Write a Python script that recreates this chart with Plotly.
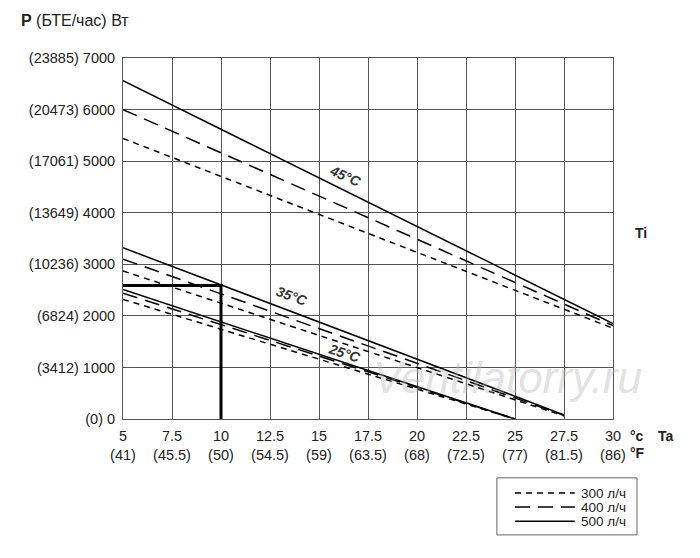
import plotly.graph_objects as go

# x axis: outdoor temperature Ta, °C and °F
ta_c = [5, 7.5, 10, 12.5, 15, 17.5, 20, 22.5, 25, 27.5, 30]
ta_f = ["41", "45.5", "50", "54.5", "59", "63.5", "68", "72.5", "77", "81.5", "86"]

# y axis: power, W and BTU/h
p_w = [0, 1000, 2000, 3000, 4000, 5000, 6000, 7000]
p_btu = ["0", "3412", "6824", "10236", "13649", "17061", "20473", "23885"]

# curves (start / end points), per Ti and flow rate
x_45 = [5, 30]
p45_300 = [5440, 1760]
p45_400 = [6000, 1810]
p45_500 = [6560, 1850]

x_35 = [5, 27.5]
p35_300 = [2870, 60]
p35_400 = [3100, 70]
p35_500 = [3320, 80]

x_25 = [5, 25]
p25_300 = [2320, 0]
p25_400 = [2440, 0]
p25_500 = [2510, 0]

# worked example: Ta = 10 °C on the 35 °C / 500 l/h line
ex_x = [5, 10, 10]
ex_y = [2590, 2590, 0]

flows = ["300 л/ч", "400 л/ч", "500 л/ч"]
dashes = ["6px,5px", "15px,8px", "solid"]

fig = go.Figure()

groups = [(x_45, [p45_300, p45_400, p45_500]),
          (x_35, [p35_300, p35_400, p35_500]),
          (x_25, [p25_300, p25_400, p25_500])]
for xs, ys in groups:
    for i in range(3):
        fig.add_trace(go.Scatter(x=xs, y=ys[i], mode="lines",
                                 line=dict(color="black", width=1.5, dash=dashes[i]),
                                 showlegend=False, hoverinfo="skip"))

fig.add_trace(go.Scatter(x=ex_x, y=ex_y, mode="lines",
                         line=dict(color="black", width=3),
                         showlegend=False, hoverinfo="skip"))

font = dict(family="Liberation Sans, Arial, sans-serif", size=14.5, color="#222")

# page body has an 8px margin, so the plot box is shifted back by that much
fig.update_layout(
    width=700, height=558,
    margin=dict(l=115, r=95, t=50, b=147),
    plot_bgcolor="white", paper_bgcolor="white",
    font=font,
    showlegend=False,
)
fig.update_xaxes(range=[5, 30], tickvals=ta_c,
                 ticktext=[f"{c:g}<br>({f})" for c, f in zip(ta_c, ta_f)],
                 showgrid=True, gridcolor="#555", gridwidth=1,
                 showline=True, linecolor="#555", linewidth=1, mirror=True,
                 ticks="", zeroline=False, ticklabelstandoff=4)
fig.update_yaxes(range=[0, 7000], tickvals=p_w,
                 ticktext=[f"({b}) {w}" for b, w in zip(p_btu, p_w)],
                 showgrid=True, gridcolor="#555", gridwidth=1,
                 showline=True, linecolor="#555", linewidth=1, mirror=True,
                 ticks="", zeroline=False, ticklabelstandoff=4)

# title
fig.add_annotation(text="<b>P</b> (БТЕ/час) Вт", xref="paper", yref="paper",
                   x=-0.213, y=1.105, xanchor="left", yanchor="middle",
                   showarrow=False, font=dict(size=16, color="#222"))

# curve labels
lab = dict(size=14, color="#333", weight="bold", style="italic")
fig.add_annotation(text="45°C", x=16.35, y=4720, textangle=24, showarrow=False, font=lab)
fig.add_annotation(text="35°C", x=13.62, y=2390, textangle=20, showarrow=False, font=lab)
fig.add_annotation(text="25°C", x=16.3, y=1280, textangle=18, showarrow=False, font=lab)

# axis names
bold = dict(size=14, color="#222", weight="bold")
fig.add_annotation(text="Ti", xref="paper", yref="paper", x=1.041, y=0.515,
                   xanchor="left", yanchor="middle", showarrow=False, font=bold)
fig.add_annotation(text="°c", xref="paper", yref="paper", x=1.03, y=-0.047,
                   xanchor="left", yanchor="middle", showarrow=False, font=bold)
fig.add_annotation(text="Ta", xref="paper", yref="paper", x=1.088, y=-0.047,
                   xanchor="left", yanchor="middle", showarrow=False, font=bold)
fig.add_annotation(text="°F", xref="paper", yref="paper", x=1.03, y=-0.094,
                   xanchor="left", yanchor="middle", showarrow=False, font=bold)

# watermark
fig.add_annotation(text="Ventilatorry.ru", xref="paper", yref="paper", x=0.785, y=0.114,
                   xanchor="center", yanchor="middle", showarrow=False,
                   font=dict(size=44, color="rgba(180,180,180,0.4)", style="italic"))

# legend box drawn by hand (flow rates)
fig.add_shape(type="rect", xref="paper", yref="paper", x0=0.763, x1=1.049,
              y0=-0.321, y1=-0.163, line=dict(color="#666", width=1))
rows = [-0.205, -0.244, -0.283]
for i in range(3):
    fig.add_shape(type="line", xref="paper", yref="paper", x0=0.8, x1=0.922,
                  y0=rows[i], y1=rows[i], line=dict(color="black", width=1.5, dash=dashes[i]))
    fig.add_annotation(text=flows[i], xref="paper", yref="paper", x=0.93, y=rows[i],
                       xanchor="left", yanchor="middle", showarrow=False,
                       font=dict(size=13.5, color="#222"))

fig.write_html("out.html")
